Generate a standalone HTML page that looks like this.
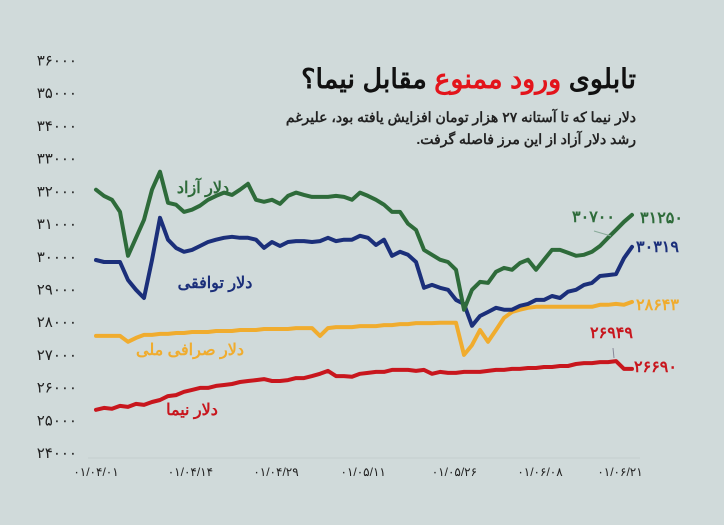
<!DOCTYPE html>
<html><head><meta charset="utf-8"><style>
html,body{margin:0;padding:0;background:#d0dada;}
svg{display:block;}
text{font-family:"Liberation Sans","Noto Sans CJK SC",sans-serif;}
</style></head><body>
<svg id="chart" width="724" height="525" viewBox="0 0 724 525" xmlns="http://www.w3.org/2000/svg">
<rect width="724" height="525" fill="#d0dada"/>
<text x="636" y="88" text-anchor="start" direction="rtl" font-size="27" font-weight="bold" fill="#111">تابلوی <tspan fill="#e3141b">ورود ممنوع</tspan> مقابل نیما؟</text>
<text x="636" y="122" text-anchor="start" direction="rtl" font-size="14" font-weight="bold" fill="#222">دلار نیما که تا آستانه ۲۷ هزار تومان افزایش یافته بود، علیرغم</text>
<text x="636" y="144" text-anchor="start" direction="rtl" font-size="14" font-weight="bold" fill="#222">رشد دلار آزاد از این مرز فاصله گرفت.</text>
<line x1="88" y1="458" x2="640" y2="458" stroke="#c4cfcf" stroke-width="1"/>
<g id="yticks"></g><g id="xticks"></g><g id="lines"></g>
<text x="203" y="193" font-size="16" font-weight="bold" fill="#2e6b3a" text-anchor="middle">دلار آزاد</text>
<text x="215" y="288" font-size="16" font-weight="bold" fill="#1b2f7a" text-anchor="middle">دلار توافقی</text>
<text x="190" y="355" font-size="16" font-weight="bold" fill="#f0ac2e" text-anchor="middle">دلار صرافی ملی</text>
<text x="192" y="415" font-size="16" font-weight="bold" fill="#c8161d" text-anchor="middle">دلار نیما</text>
<text x="640" y="223" font-size="16" font-weight="bold" fill="#2e6b3a">۳۱۲۵۰</text>
<text x="572" y="222" font-size="16" font-weight="bold" fill="#2e6b3a">۳۰۷۰۰</text>
<line x1="594" y1="231" x2="611" y2="236" stroke="#8a9" stroke-width="1"/>
<text x="636" y="252" font-size="16" font-weight="bold" fill="#1b2f7a">۳۰۳۱۹</text>
<text x="636" y="310" font-size="16" font-weight="bold" fill="#f0ac2e">۲۸۶۴۳</text>
<text x="590" y="338" font-size="16" font-weight="bold" fill="#c8161d">۲۶۹۴۹</text>
<line x1="613" y1="348" x2="614" y2="358" stroke="#889" stroke-width="1"/>
<text x="634" y="372" font-size="16" font-weight="bold" fill="#c8161d">۲۶۶۹۰</text>
</svg>
<script>
const yTicks=[24000,25000,26000,27000,28000,29000,30000,31000,32000,33000,34000,35000,36000];
const xTickLabels=["01/04/01","01/04/14","01/04/29","01/05/11","01/05/26","01/06/08","01/06/21"];
const xTickIndex=[0,11.8,22.5,33.4,44.8,55.5,65.5];
const freeDollar=[32050,31860,31740,31370,30030,30580,31130,32050,32600,31650,31590,31370,31440,31560,31740,31860,31960,31890,32050,32230,31740,31680,31740,31620,31860,31960,31890,31830,31830,31830,31860,31830,31740,31960,31860,31740,31590,31370,31370,31010,30820,30210,30060,29910,29840,29600,28380,28990,29230,29200,29540,29660,29600,29810,29910,29600,29910,30210,30210,30120,30030,30060,30150,30330,30580,30820,31070,31280];
const agreedDollar=[29900,29840,29840,29840,29290,28990,28740,29900,31190,30520,30270,30150,30210,30330,30450,30520,30580,30610,30580,30580,30520,30270,30450,30330,30450,30480,30480,30450,30480,30580,30480,30520,30520,30640,30580,30360,30520,30030,30150,30060,29840,29050,29140,29050,28990,28680,28560,27890,28190,28310,28440,28380,28380,28500,28560,28680,28680,28800,28740,28930,28990,29140,29200,29410,29440,29470,29960,30300];
const exchangeDollar=[27580,27580,27580,27580,27400,27520,27610,27610,27640,27640,27670,27670,27700,27700,27700,27730,27730,27730,27760,27760,27760,27790,27790,27790,27790,27820,27820,27820,27580,27820,27850,27850,27850,27880,27880,27880,27910,27910,27940,27940,27970,27970,27970,27980,27980,27980,27000,27300,27760,27400,27760,28130,28310,28380,28440,28470,28470,28470,28470,28470,28470,28470,28470,28530,28530,28560,28530,28620];
const nimaDollar=[25320,25380,25350,25440,25410,25500,25470,25560,25620,25740,25770,25870,25930,25990,25990,26050,26080,26110,26170,26200,26230,26260,26200,26200,26230,26290,26290,26350,26420,26510,26350,26350,26330,26420,26450,26480,26480,26540,26540,26540,26510,26540,26420,26480,26450,26450,26480,26480,26480,26510,26540,26540,26570,26570,26600,26600,26630,26630,26660,26660,26720,26750,26750,26780,26780,26810,26570,26570];
const fa=s=>s.replace(/\d/g,d=>"۰۱۲۳۴۵۶۷۸۹"[d]);
const NS="http://www.w3.org/2000/svg";
const yS=v=>453-(v-24000)*(392.5/12000);
const xS=i=>96+i*8;
const yt=document.getElementById('yticks');
yTicks.forEach(v=>{const t=document.createElementNS(NS,'text');
t.setAttribute('x',77);t.setAttribute('y',yS(v)+5);t.setAttribute('text-anchor','end');t.setAttribute('font-size','15');t.setAttribute('fill','#222');


t.textContent=fa(String(v));yt.appendChild(t);});
const xt=document.getElementById('xticks');
xTickLabels.forEach((l,k)=>{const t=document.createElementNS(NS,'text');
t.setAttribute('x',xS(xTickIndex[k]));t.setAttribute('y',476);t.setAttribute('text-anchor','middle');t.setAttribute('font-size','12');t.setAttribute('fill','#222');


t.textContent=fa(l);xt.appendChild(t);});
const lg=document.getElementById('lines');
[[exchangeDollar,'#f0ac2e','line-exchange-dollar'],[nimaDollar,'#c8161d','line-nima-dollar'],[agreedDollar,'#1b2f7a','line-agreed-dollar'],[freeDollar,'#2e6b3a','line-free-dollar']].forEach(([d,c,n])=>{
const p=document.createElementNS(NS,'polyline');
p.setAttribute('points',d.map((v,i)=>xS(i)+','+yS(v).toFixed(1)).join(' '));
p.setAttribute('fill','none');p.setAttribute('stroke',c);p.setAttribute('stroke-width','4');p.setAttribute('stroke-linejoin','round');p.setAttribute('stroke-linecap','round');


lg.appendChild(p);});
</script>
</body></html>
